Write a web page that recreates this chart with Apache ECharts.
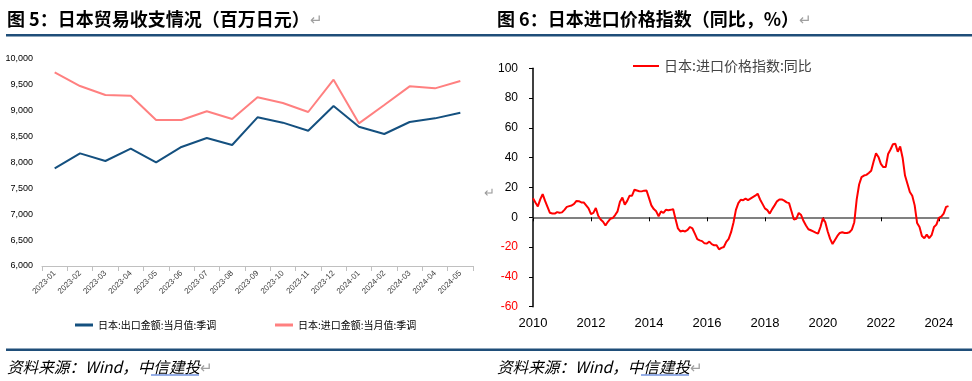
<!DOCTYPE html>
<html><head><meta charset="utf-8">
<script src="https://cdn.jsdelivr.net/npm/echarts@6/dist/echarts.min.js"></script>
<style>html,body{margin:0;padding:0;background:#fff}#c{width:972px;height:381px}</style>
</head><body><div id="c"></div>
<script>
// ---- Figure 5: Japan trade (million yen) ----
const tradeMonths = ['2023-01','2023-02','2023-03','2023-04','2023-05','2023-06','2023-07','2023-08','2023-09','2023-10','2023-11','2023-12','2024-01','2024-02','2024-03','2024-04','2024-05'];
const exportValues = [7887,8177,8029,8267,8003,8300,8473,8338,8873,8770,8615,9092,8692,8551,8783,8853,8963];
const importValues = [9742,9478,9304,9291,8821,8821,8989,8841,9259,9150,8976,9601,8757,9111,9472,9433,9575];
const exportName = '日本:出口金额:当月值:季调';
const importName = '日本:进口金额:当月值:季调';

// ---- Figure 6: Japan import price index YoY (%) ----
const priceName = '日本:进口价格指数:同比';
const priceStartYear = 2010;   // first month: 2010-01, monthly
const priceYoY = [
  12.8,10,7.3,12,15.6,11,7,3,2.5,2.5,3.5,3,
  3.3,5,7,7.5,7.9,9,11,10.8,10,10,8,6,
  2.2,3,6.2,1,-1.5,-3,-5.5,-3,-1,-0.5,1.5,4,
  10.5,13.2,8.5,11,14.5,14.5,18.5,18,17.5,17.4,17.9,18,
  13,8,5.5,4,0.7,4,2.9,5,4.7,5,5.5,-1.2,
  -7.5,-9.5,-9,-9.5,-8.5,-6.5,-7.5,-11,-14.7,-15.5,-16,-17.5,
  -17.6,-16.3,-18,-18.8,-18.8,-21.5,-20.5,-19.9,-16.5,-14.5,-10,-3.5,
  5,9.5,11.8,11.5,12.5,11.5,12.5,13.5,14.5,15.8,12,9,
  6,4.8,2.5,5.5,8,10.7,12,12,11.2,10,9.5,4,
  -1.5,-1,2.9,1.5,-2.5,-5.5,-8,-8.7,-9.5,-10.3,-11,-6.5,
  -0.5,-3.3,-9.5,-14.5,-17.9,-15.2,-12.5,-10.5,-10,-10.5,-10.5,-10,
  -8.3,-3.3,12,22,27,28,28.5,29.7,31.2,37.5,43,40.5,
  35.9,33.7,33.7,42.5,45.5,49,49.3,44,47.5,40,28,22.5,
  17,14.5,8,-3.8,-6.5,-12.5,-14,-11.6,-14,-12,-6.5,-4.9,
  -0.4,0.4,2.5,7,7.5
];
const priceYearTicks = [2010,2012,2014,2016,2018,2020,2022,2024];

const priceData = priceYoY.map((v, i) => [priceStartYear + i / 12, v]);
const priceMax = priceStartYear + (priceYoY.length - 1) / 12;

const CJK = '"Noto Sans CJK SC", sans-serif';
const NUM = '"Liberation Sans Narrow", "Liberation Sans", Arial, sans-serif';
const NUM2 = '"Liberation Sans", Arial, sans-serif';
const RULE = '#1F4E79';
const RET = {fill: '#a0a0a0', font: '15px ' + CJK};

function headText(x, txt) {
  return {type: 'text', x: x, y: 19, style: {text: txt + '{r|↵}', font: 'bold 18px ' + CJK, fill: '#000',
          verticalAlign: 'middle', rich: {r: RET}}};
}
function sourceText(x) {
  return {type: 'text', x: x, y: 367, style: {text: '资料来源：Wind，中信建投{r|↵}', font: 'italic 15.6px ' + CJK,
          fill: '#000', verticalAlign: 'middle', rich: {r: RET}}};
}
function underline(x) {
  return {type: 'line', shape: {x1: x + 144, y1: 375, x2: x + 192, y2: 375}, style: {stroke: '#2F5FD0', lineWidth: 1}};
}

const chart = echarts.init(document.getElementById('c'));
chart.setOption({
  animation: false,
  backgroundColor: '#fff',
  grid: [
    {left: 42, top: 59, width: 431, height: 207},
    {left: 533, top: 68.3, width: 415.5, height: 238.4}
  ],
  xAxis: [
    {gridIndex: 0, type: 'category', data: tradeMonths, boundaryGap: true,
     axisLine: {lineStyle: {color: '#c0c0c0', width: 1}},
     axisTick: {show: true, length: 5, lineStyle: {color: '#c0c0c0'}},
     axisLabel: {rotate: 45, interval: 0, fontSize: 8, color: '#404040', margin: 6, fontFamily: NUM}},
    {gridIndex: 1, type: 'value', min: priceStartYear, max: priceMax, position: 'bottom',
     axisLine: {onZero: true, lineStyle: {color: '#808080', width: 2}},
     axisTick: {show: true, customValues: priceYearTicks, length: 4, lineStyle: {color: '#000'}},
     axisLabel: {show: false}, splitLine: {show: false}},
    {gridIndex: 1, type: 'value', min: priceStartYear, max: priceMax, position: 'bottom',
     axisLine: {show: false, onZero: false}, axisTick: {show: false}, splitLine: {show: false},
     axisLabel: {customValues: priceYearTicks, fontSize: 13, color: '#000', margin: 10, fontFamily: NUM2,
                 formatter: v => String(Math.round(v))}}
  ],
  yAxis: [
    {gridIndex: 0, type: 'value', min: 6000, max: 10000, interval: 500,
     axisLine: {show: false}, axisTick: {show: false}, splitLine: {show: false},
     axisLabel: {fontSize: 9, color: '#000', margin: 9, fontFamily: NUM,
                 formatter: v => Number(v).toLocaleString('en-US')}},
    {gridIndex: 1, type: 'value', min: -60, max: 100, interval: 20,
     axisLine: {show: true, lineStyle: {color: '#000', width: 1.5}},
     axisTick: {show: true, length: 4, lineStyle: {color: '#000'}},
     splitLine: {show: false},
     axisLabel: {fontSize: 12, margin: 15, fontFamily: NUM2,
                 color: v => (Number(v) < 0 ? '#FF0000' : '#000')}}
  ],
  legend: [
    {data: [exportName], left: 70, top: 315, icon: 'rect', itemWidth: 18, itemHeight: 3,
     textStyle: {fontSize: 10, color: '#000', fontFamily: CJK}},
    {data: [importName], left: 270, top: 315, icon: 'rect', itemWidth: 18, itemHeight: 3,
     textStyle: {fontSize: 10, color: '#000', fontFamily: CJK}},
    {data: [priceName], left: 628, top: 54, icon: 'rect', itemWidth: 26, itemHeight: 2,
     textStyle: {fontSize: 14, color: '#444', fontFamily: CJK}}
  ],
  series: [
    {type: 'line', name: exportName, xAxisIndex: 0, yAxisIndex: 0, data: exportValues,
     symbol: 'none', lineStyle: {color: '#14507F', width: 2}, itemStyle: {color: '#14507F'}},
    {type: 'line', name: importName, xAxisIndex: 0, yAxisIndex: 0, data: importValues,
     symbol: 'none', lineStyle: {color: '#FF8080', width: 2}, itemStyle: {color: '#FF8080'}},
    {type: 'line', name: priceName, xAxisIndex: 1, yAxisIndex: 1, data: priceData,
     symbol: 'none', lineStyle: {color: '#FF0000', width: 2}, itemStyle: {color: '#FF0000'}}
  ],
  graphic: [
    headText(7, '图 5：日本贸易收支情况（百万日元）'),
    headText(497, '图 6：日本进口价格指数（同比，%）'),
    {type: 'rect', shape: {x: 6, y: 34, width: 966, height: 2.5}, style: {fill: RULE}},
    {type: 'rect', shape: {x: 6, y: 348.5, width: 966, height: 2.5}, style: {fill: RULE}},
    sourceText(7),
    sourceText(497),
    underline(7),
    underline(497),
    {type: 'text', x: 484, y: 192, style: {text: '↵', font: '13px ' + CJK, fill: '#999', verticalAlign: 'middle'}}
  ]
});
</script></body></html>
